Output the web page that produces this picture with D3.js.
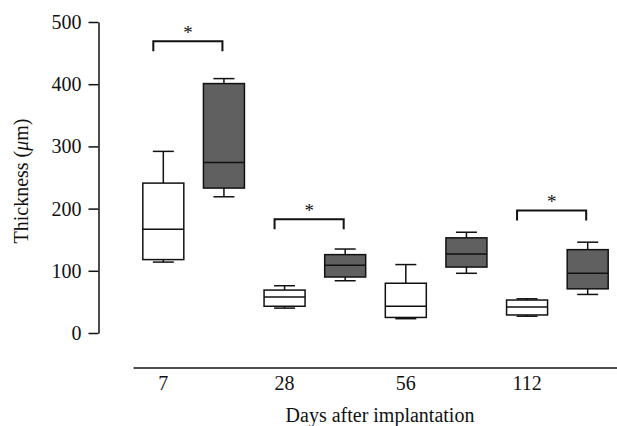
<!DOCTYPE html>
<html>
<head>
<meta charset="utf-8">
<script src="https://cdn.jsdelivr.net/npm/d3@7"></script>
<style>
  html, body { margin: 0; padding: 0; background: #fff; }
  svg text { font-family: "Liberation Serif", "DejaVu Serif", serif; fill: #111; }
</style>
</head>
<body>
<svg id="chart" width="617" height="426"></svg>
<script>
// ---- data ----
const days = ["7", "28", "56", "112"];
const groups = ["control", "treated"];
const yTicks = [0, 100, 200, 300, 400, 500];
// [min, q1, median, q3, max] per day
const controlStats = [
  [114, 118, 167, 241, 292],
  [40, 43, 58, 69, 76],
  [23, 25, 43, 80, 110],
  [27, 29, 42, 53, 55]
];
const treatedStats = [
  [219, 233, 274, 401, 409],
  [84, 90, 109, 126, 135],
  [96, 106, 127, 153, 162],
  [62, 71, 96, 134, 146]
];
const sigDays = ["7", "28", "112"];
const sigHeights = [469, 183, 197];
const yLabelMain = "Thickness (";
const yLabelMu = "μ";
const yLabelEnd = "m)";
const xLabel = "Days after implantation";

// ---- layout ----
const svg = d3.select("#chart");
const y = d3.scaleLinear().domain([0, 500]).range([333, 22]);
const xDay = d3.scaleBand().domain(days).range([133, 618]).padding(0);
const xSub = d3.scaleBand().domain(groups).range([0, xDay.bandwidth()]).padding(0);
const boxW = 41, capW = 21;
const fills = { control: "#ffffff", treated: "#5f605f" };
const fs = 20;

// y axis
const yAxis = svg.append("g")
  .attr("transform", "translate(98.5,0)")
  .call(d3.axisLeft(y).tickValues(yTicks).tickSize(10).tickSizeOuter(0).tickPadding(7));
yAxis.selectAll("path, line").attr("stroke", "#111").attr("stroke-width", 1.5);
yAxis.selectAll("text").attr("font-size", fs).attr("font-family", "Liberation Serif");

// x axis (line + labels under control boxes)
const xAxis = svg.append("g")
  .attr("transform", "translate(0,367.5)")
  .call(d3.axisBottom(xDay).tickSize(0).tickSizeOuter(0).tickPadding(8));
xAxis.select(".domain").attr("stroke", "#111").attr("stroke-width", 1.5);
xAxis.selectAll("text")
  .attr("font-size", fs).attr("font-family", "Liberation Serif")
  .attr("dx", -xDay.bandwidth() / 4);

// boxes
const boxData = [];
days.forEach((d, i) => {
  boxData.push({ day: d, group: "control", s: controlStats[i] });
  boxData.push({ day: d, group: "treated", s: treatedStats[i] });
});
const bx = svg.append("g").selectAll("g").data(boxData).join("g")
  .attr("transform", d => `translate(${xDay(d.day) + xSub(d.group) + xSub.bandwidth() / 2},0)`);
bx.each(function (d) {
  const g = d3.select(this);
  const [mn, q1, md, q3, mx] = d.s;
  g.append("line").attr("x1", 0).attr("x2", 0).attr("y1", y(q3)).attr("y2", y(mx))
    .attr("stroke", "#111").attr("stroke-width", 1.5);
  g.append("line").attr("x1", 0).attr("x2", 0).attr("y1", y(q1)).attr("y2", y(mn))
    .attr("stroke", "#111").attr("stroke-width", 1.5);
  g.append("line").attr("x1", -capW / 2).attr("x2", capW / 2).attr("y1", y(mx)).attr("y2", y(mx))
    .attr("stroke", "#111").attr("stroke-width", 1.5);
  g.append("line").attr("x1", -capW / 2).attr("x2", capW / 2).attr("y1", y(mn)).attr("y2", y(mn))
    .attr("stroke", "#111").attr("stroke-width", 1.5);
  g.append("rect").attr("x", -boxW / 2).attr("width", boxW)
    .attr("y", y(q3)).attr("height", y(q1) - y(q3))
    .attr("fill", fills[d.group]).attr("stroke", "#111").attr("stroke-width", 1.5);
  g.append("line").attr("x1", -boxW / 2).attr("x2", boxW / 2).attr("y1", y(md)).attr("y2", y(md))
    .attr("stroke", "#111").attr("stroke-width", 1.5);
});

// significance brackets
const sg = svg.append("g").selectAll("g").data(sigDays.map((d, i) => ({ day: d, h: sigHeights[i] }))).join("g");
sg.each(function (d) {
  const g = d3.select(this);
  const x1 = xDay(d.day) + xSub("control") + xSub.bandwidth() / 2 - 10;
  const x2 = xDay(d.day) + xSub("treated") + xSub.bandwidth() / 2 - 1.5;
  const yt = y(d.h);
  g.append("path")
    .attr("d", `M${x1},${yt + 10}V${yt}H${x2}V${yt + 10}`)
    .attr("fill", "none").attr("stroke", "#111").attr("stroke-width", 2);
  g.append("text").attr("x", (x1 + x2) / 2).attr("y", yt - 2)
    .attr("text-anchor", "middle").attr("font-size", 19).text("*");
});

// axis titles
const yt = svg.append("text")
  .attr("transform", "translate(28,181) rotate(-90)")
  .attr("text-anchor", "middle").attr("font-size", fs);
yt.append("tspan").text(yLabelMain);
yt.append("tspan").attr("font-style", "italic").text(yLabelMu);
yt.append("tspan").text(yLabelEnd);
svg.append("text")
  .attr("x", 380).attr("y", 422)
  .attr("text-anchor", "middle").attr("font-size", fs).text(xLabel);
</script>
</body>
</html>
